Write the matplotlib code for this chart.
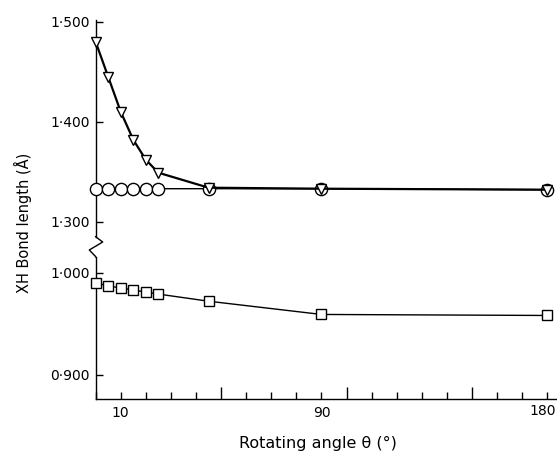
import matplotlib
matplotlib.use('Agg')
import matplotlib.pyplot as plt
from matplotlib.lines import Line2D

# ---- data ----
angles = [0, 5, 10, 15, 20, 25, 45, 90, 180]
tri_vals = [1.480, 1.445, 1.410, 1.382, 1.362, 1.349, 1.334, 1.333, 1.332]
circ_vals = [1.333, 1.333, 1.333, 1.333, 1.333, 1.333, 1.333, 1.333, 1.332]
sq_vals = [0.990, 0.987, 0.985, 0.983, 0.981, 0.979, 0.972, 0.959, 0.958]

upper_ticks = [1.300, 1.400, 1.500]
upper_labels = ['1·300', '1·400', '1·500']
lower_ticks = [0.900, 1.000]
lower_labels = ['0·900', '1·000']
x_labelled = {10: '10', 90: '90'}
x_last_label = '180'

plt.rcParams['font.family'] = ['DejaVu Sans']
W, H = 557, 453
fig = plt.figure(figsize=(W / 100, H / 100), dpi=100)

left = 95.6 / W
width = (557.4 - 95.6) / W
ax_up = fig.add_axes([left, (H - 236.7) / H, width, (236.7 - 19.7) / H])
ax_lo = fig.add_axes([left, (H - 399) / H, width, (399 - 257) / H])

for ax in (ax_up, ax_lo):
    ax.set_xlim(0, 184)
    ax.spines['top'].set_visible(False)
    ax.spines['right'].set_visible(False)
    ax.spines['left'].set_linewidth(1.0)
    ax.tick_params(axis='y', direction='in', length=5, width=1, pad=4, labelsize=10)

ax_up.set_ylim(1.285, 1.502)
ax_up.spines['bottom'].set_visible(False)
ax_up.set_xticks([])
ax_up.set_yticks(upper_ticks)
ax_up.set_yticklabels(upper_labels)

ax_lo.set_ylim(0.876, 1.0154)
ax_lo.set_yticks(lower_ticks)
ax_lo.set_yticklabels(lower_labels)

# x ticks
major = [v for v in range(0, 181, 10) if v not in (50, 100, 150)]
ax_lo.set_xticks(major)
ax_lo.set_xticklabels([x_labelled.get(v, '') for v in major])
ax_lo.set_xticks([50, 100, 150], minor=True)
ax_lo.tick_params(axis='x', which='major', direction='in', length=5, width=1, pad=5, labelsize=10)
ax_lo.tick_params(axis='x', which='minor', direction='in', length=9, width=1)
ax_lo.spines['bottom'].set_linewidth(1.0)
ax_lo.annotate(x_last_label, xy=(180, 0), xycoords=('data', 'axes fraction'),
               xytext=(6, -3.6), textcoords='offset points', ha='right', va='top',
               fontsize=10)

# data
ax_up.plot(angles, tri_vals, '-', color='black', lw=1.6, marker='v', ms=7.5,
           mfc='white', mec='black', mew=1.0, clip_on=False, zorder=4)
ax_up.plot(angles, circ_vals, '-', color='black', lw=1.0, marker='o', ms=8.8,
           mfc='white', mec='black', mew=1.0, clip_on=False, zorder=3)
ax_lo.plot(angles, sq_vals, '-', color='black', lw=1.0, marker='s', ms=6.5,
           mfc='white', mec='black', mew=1.0, clip_on=False, zorder=3)

# axis break zigzag (figure pixel coordinates)
zx = [95.6, 95.6, 102.7, 89.3, 95.6, 95.6]
zy = [236.7, 236.7, 242.0, 250.0, 256.5, 257.0]
fig.add_artist(Line2D([x / W for x in zx], [(H - y) / H for y in zy],
                      color='black', lw=1.0, transform=fig.transFigure))

fig.text(23 / W, (H - 223) / H, 'XH Bond length (Å)',
         rotation=90, ha='center', va='center', fontsize=10.5)
fig.text(318 / W, (H - 443) / H, 'Rotating angle θ (°)',
         ha='center', va='center', fontsize=11.5)

fig.savefig('out.png', dpi=100)
